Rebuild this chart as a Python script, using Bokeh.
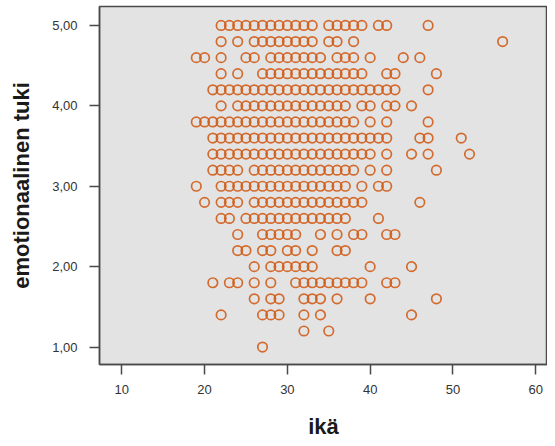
from bokeh.plotting import figure
from bokeh.models import FixedTicker, ColumnDataSource
from bokeh.embed import file_html
from bokeh.resources import INLINE

# ---- data: ages (ikä) observed at each level of "emotionaalinen tuki" ----
ages_5_0 = [22, 23, 24, 25, 26, 27, 28, 29, 30, 31, 32, 33, 35, 36, 37, 38, 39, 41, 42, 47]
ages_4_8 = [22, 24, 26, 27, 28, 29, 30, 31, 32, 33, 35, 36, 38, 56]
ages_4_6 = [19, 20, 22, 25, 26, 28, 29, 30, 31, 32, 33, 34, 36, 37, 38, 40, 44, 46]
ages_4_4 = [22, 24, 27, 28, 29, 30, 31, 32, 33, 34, 35, 36, 37, 38, 39, 42, 43, 48]
ages_4_2 = [21, 22, 23, 24, 25, 26, 27, 28, 29, 30, 31, 32, 33, 34, 35, 36, 37, 38, 39, 40, 41, 42, 43, 47]
ages_4_0 = [22, 24, 25, 26, 27, 28, 29, 30, 31, 32, 33, 34, 35, 36, 37, 39, 40, 42, 43, 45]
ages_3_8 = [19, 20, 21, 22, 23, 24, 25, 26, 27, 28, 29, 30, 31, 32, 33, 34, 35, 36, 37, 38, 40, 42, 47]
ages_3_6 = [21, 22, 23, 24, 25, 26, 27, 28, 29, 30, 31, 32, 33, 34, 35, 36, 37, 38, 39, 40, 41, 42, 46, 47, 51]
ages_3_4 = [21, 22, 23, 24, 25, 26, 27, 28, 29, 30, 31, 32, 33, 34, 35, 36, 37, 38, 39, 40, 42, 45, 47, 52]
ages_3_2 = [21, 22, 23, 24, 26, 27, 28, 29, 30, 31, 32, 33, 34, 35, 36, 37, 38, 40, 42, 48]
ages_3_0 = [19, 22, 23, 24, 25, 26, 27, 28, 29, 30, 31, 32, 33, 34, 35, 36, 37, 39, 41, 42]
ages_2_8 = [20, 22, 23, 24, 26, 27, 28, 29, 30, 31, 32, 33, 34, 35, 36, 37, 38, 39, 46]
ages_2_6 = [22, 23, 25, 26, 27, 28, 29, 30, 31, 32, 33, 34, 35, 36, 37, 41]
ages_2_4 = [24, 27, 28, 29, 30, 31, 34, 36, 38, 39, 42, 43]
ages_2_2 = [24, 25, 27, 28, 30, 31, 33, 36, 37]
ages_2_0 = [26, 28, 29, 30, 31, 32, 33, 40, 45]
ages_1_8 = [21, 23, 24, 26, 28, 31, 32, 33, 34, 35, 36, 37, 38, 39, 42, 43]
ages_1_6 = [26, 28, 29, 32, 33, 34, 36, 40, 48]
ages_1_4 = [22, 27, 28, 29, 32, 34, 45]
ages_1_2 = [32, 35]
ages_1_0 = [27]

levels = [5.0, 4.8, 4.6, 4.4, 4.2, 4.0, 3.8, 3.6, 3.4, 3.2, 3.0,
          2.8, 2.6, 2.4, 2.2, 2.0, 1.8, 1.6, 1.4, 1.2, 1.0]
ages_by_level = [ages_5_0, ages_4_8, ages_4_6, ages_4_4, ages_4_2, ages_4_0,
                 ages_3_8, ages_3_6, ages_3_4, ages_3_2, ages_3_0, ages_2_8,
                 ages_2_6, ages_2_4, ages_2_2, ages_2_0, ages_1_8, ages_1_6,
                 ages_1_4, ages_1_2, ages_1_0]

x_ticks = [10, 20, 30, 40, 50, 60]
y_ticks = [1, 2, 3, 4, 5]
y_tick_labels = ["1,00", "2,00", "3,00", "4,00", "5,00"]
x_label = "ikä"
y_label = "emotionaalinen tuki"

xs, ys = [], []
for lvl, ages in zip(levels, ages_by_level):
    for a in ages:
        xs.append(a)
        ys.append(lvl)
src = ColumnDataSource(dict(x=xs, y=ys))

FONT = "Liberation Sans"
DARK = "#4a4a4a"

p = figure(frame_width=448, frame_height=358,
           x_range=(7.31, 61.42), y_range=(0.783, 5.236),
           min_border_left=99, min_border_right=0, min_border_top=6,
           min_border_bottom=74,
           output_backend="svg", toolbar_location=None)

p.background_fill_color = "#e3e3e3"
p.border_fill_color = "white"
p.outline_line_color = DARK
p.outline_line_width = 1.5
p.grid.visible = False

p.scatter("x", "y", source=src, marker="circle", size=9.5,
          fill_color=None, line_color="#d05a14", line_width=1.7,
          line_alpha=0.88)

p.xaxis.ticker = FixedTicker(ticks=x_ticks)
p.yaxis.ticker = FixedTicker(ticks=y_ticks)
p.yaxis.major_label_overrides = {t: s for t, s in zip(y_ticks, y_tick_labels)}

for ax in (p.xaxis[0], p.yaxis[0]):
    ax.axis_line_color = DARK
    ax.axis_line_width = 1.5
    ax.major_tick_line_color = DARK
    ax.major_tick_line_width = 1.5
    ax.major_tick_in = 0
    ax.minor_tick_out = 0
    ax.minor_tick_in = 0
    ax.major_label_text_font = FONT
    ax.major_label_text_font_size = "13px"
    ax.major_label_text_color = "#333333"
    ax.axis_label_text_font = FONT
    ax.axis_label_text_font_size = "22px"
    ax.axis_label_text_font_style = "bold"
    ax.axis_label_text_color = "#1a1a1a"

p.xaxis.axis_label = x_label
p.yaxis.axis_label = y_label
p.xaxis.major_tick_out = 10
p.yaxis.major_tick_out = 10
p.xaxis.major_label_standoff = 10
p.xaxis.axis_label_standoff = 17
p.yaxis.major_label_standoff = 12
p.yaxis.axis_label_standoff = 15

open("out.html", "w").write(file_html(p, INLINE))
